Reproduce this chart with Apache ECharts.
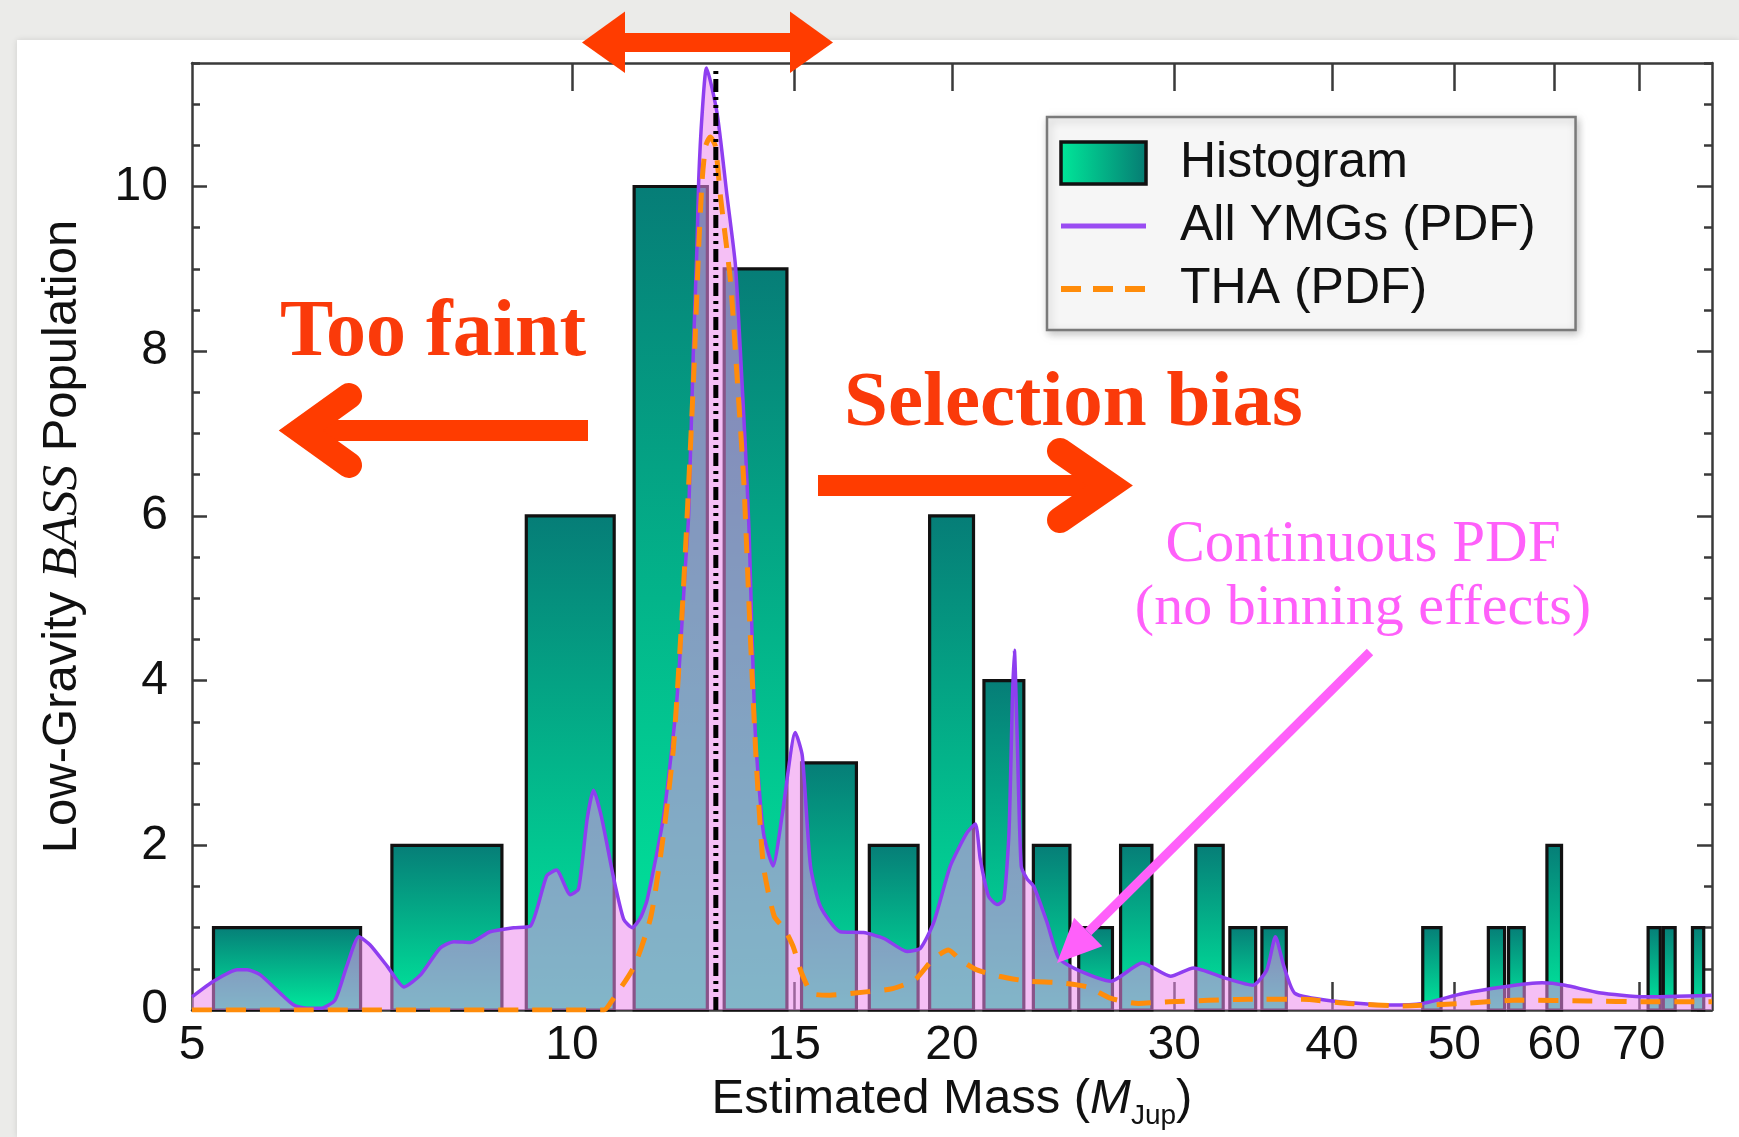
<!DOCTYPE html>
<html>
<head>
<meta charset="utf-8">
<script src="https://cdn.jsdelivr.net/npm/echarts@6/dist/echarts.min.js"></script>
<style>
  html, body { margin: 0; padding: 0; background: #ebebe9; overflow: hidden; }
  #panel { position: absolute; left: 17px; top: 40px; right: 0; bottom: 0; background: #fff; box-shadow: 0 0 6px rgba(0,0,0,0.12); }
  #chart { position: absolute; left: 0; top: 0; width: 1739px; height: 1137px; }
</style>
</head>
<body>
<div id="panel"></div>
<div id="chart"></div>
<script>
// Histogram: lower edge of each 2 M_Jup bin and the number of objects in it
const binLower  = [5, 7, 9, 11, 13, 15, 17, 19, 21, 23, 25, 27, 31, 33, 35, 47, 53, 55, 59, 71, 73, 77];
const binCounts = [1, 2, 6, 10, 9, 3, 2, 6, 4, 2, 1, 2, 2, 1, 1, 1, 1, 1, 2, 1, 1, 1];
const binWidth = 2;

// Summed mass PDF over all young moving groups
const allMass = [5.00, 5.20, 5.43, 5.53, 5.66, 5.84, 6.02, 6.17, 6.32, 6.49, 6.63, 6.78, 6.92, 7.14, 7.36, 7.59, 7.86, 8.06, 8.31, 8.61,
                 8.99, 9.27, 9.55, 9.72, 9.97, 10.12, 10.28, 10.40, 10.55, 10.79, 10.99, 11.16, 11.33, 11.47, 11.82, 12.11, 12.30, 12.37, 12.48, 12.56,
                 12.60, 12.68, 12.78, 13.03, 13.27, 13.47, 13.59, 13.72, 13.81, 13.97, 14.18, 14.43, 14.67, 15.03, 15.22, 15.45, 15.73, 16.31, 17.02, 17.66,
                 18.43, 18.88, 19.34, 19.94, 20.55, 20.87, 21.06, 21.38, 21.72, 21.98, 22.19, 22.33, 22.41, 22.52, 22.69, 22.94, 23.22, 23.79, 24.30, 25.12,
                 26.73, 28.3, 29.8, 31.07, 32.88, 34.62, 35.52, 36.08, 36.64, 37.4, 40.04, 44.4, 47.2, 50.8, 54.6, 58.7, 61.2, 65.1, 70.7, 80];
const allPdf  = [0.16, 0.35, 0.49, 0.49, 0.43, 0.24, 0.06, 0.02, 0.02, 0.12, 0.53, 0.89, 0.79, 0.53, 0.28, 0.43, 0.75, 0.83, 0.82, 0.95,
                 1.00, 1.02, 1.63, 1.70, 1.40, 1.47, 2.32, 2.67, 2.35, 1.60, 1.10, 1.00, 1.12, 1.34, 2.36, 3.78, 5.41, 6.00, 8.05, 9.27,
                 10.08, 10.89, 11.44, 10.89, 9.88, 9.06, 8.05, 6.83, 5.85, 3.37, 2.15, 1.75, 2.36, 3.37, 3.09, 1.75, 1.26, 0.95, 0.94, 0.87,
                 0.71, 0.75, 1.06, 1.75, 2.15, 2.26, 1.83, 1.38, 1.28, 1.34, 2.15, 3.78, 4.37, 3.37, 1.75, 1.59, 1.50, 1.06, 0.63, 0.49,
                 0.35, 0.57, 0.41, 0.51, 0.39, 0.30, 0.49, 0.89, 0.53, 0.20, 0.11, 0.06, 0.08, 0.20, 0.28, 0.33, 0.30, 0.21, 0.16, 0.18];

// Mass PDF for Tucana-Horologium members
const thaMass = [5.0, 10.6, 10.72, 11.2, 11.55, 11.82, 12.03, 12.2, 12.32, 12.48, 12.6, 12.68, 12.76, 12.87, 12.99, 13.11, 13.35, 13.52, 13.68, 13.84,
                 14.0, 14.18, 14.46, 14.74, 14.97, 15.2, 15.5, 16.0, 17.1, 17.95, 18.7, 19.3, 19.87, 20.3, 20.9, 21.8, 22.94, 24.37, 25.6, 26.73,
                 28.1, 29.7, 34.3, 37.9, 41.2, 45.6, 50.8, 56.2, 63.8, 70.7, 80];
const thaPdf  = [0.0, 0.0, 0.08, 0.53, 1.14, 2.15, 3.17, 4.59, 5.81, 7.64, 9.27, 10.08, 10.49, 10.6, 10.49, 9.88, 8.86, 7.64, 6.42, 4.59,
                 2.97, 1.75, 1.14, 0.98, 0.77, 0.45, 0.20, 0.18, 0.22, 0.26, 0.37, 0.61, 0.73, 0.61, 0.49, 0.41, 0.35, 0.33, 0.28, 0.14,
                 0.08, 0.10, 0.13, 0.13, 0.08, 0.05, 0.08, 0.12, 0.11, 0.10, 0.10];

// Vertical marker at the THA peak
const peakMass  = [13.0, 13.0];
const peakLevel = [0, 11.45];

// Axis ticks and labels
const xTickValues  = [10, 15, 20, 30, 40, 50, 60, 70];
const xLabelValues = [5, 10, 15, 20, 30, 40, 50, 60, 70];
const yLabelValues = [0, 2, 4, 6, 8, 10];
const xMin = 5, xMax = 80, yMin = 0, yMax = 11.5;

const SANS = '"Liberation Sans", Arial, Helvetica, sans-serif';
const SERIF = '"Liberation Serif", "Times New Roman", serif';
const lg = Math.log10;
const inset = 0.2;   // gap between neighbouring bars, in M_Jup on each side

const histData = binLower.map((lo, i) => [lg(lo + inset), lg(lo + binWidth - inset), binCounts[i]]);
const allData = allMass.map((m, i) => [lg(m), allPdf[i]]);
const thaData = thaMass.map((m, i) => [lg(m), thaPdf[i]]);
const peakData = peakMass.map((m, i) => [lg(m), peakLevel[i]]);

const barFill = new echarts.graphic.LinearGradient(0, 0, 0, 1, [
  { offset: 0, color: '#067d77' }, { offset: 1, color: '#00eb9d' }
]);
const swatchFill = new echarts.graphic.LinearGradient(0, 0, 1, 0, [
  { offset: 0, color: '#00e99a' }, { offset: 1, color: '#067a72' }
]);

const frame = { color: '#3a3a3a', width: 2.5 };
const labelStyle = { fontSize: 48, fontFamily: SANS, color: '#111' };

function xAxisDef(pos) {
  const ax = {
    type: 'value', position: pos, min: lg(xMin), max: lg(xMax),
    axisLine: { show: true, onZero: false, lineStyle: frame },
    axisTick: { show: true, inside: true, length: 28, lineStyle: frame, customValues: xTickValues.map(lg) },
    splitLine: { show: false },
    axisLabel: { show: false }
  };
  if (pos === 'bottom') {
    ax.axisLabel = Object.assign({
      show: true, margin: 12,
      customValues: xLabelValues.map(lg),
      formatter: v => String(Math.round(Math.pow(10, v)))
    }, labelStyle);
    ax.name = '{a|Estimated Mass (}{m|M}{s|Jup}{a|)}';
    ax.nameLocation = 'middle';
    ax.nameGap = 56;
    ax.nameTextStyle = {
      fontSize: 49, fontFamily: SANS, color: '#111',
      rich: {
        a: { fontSize: 49, fontFamily: SANS, color: '#111', lineHeight: 62 },
        m: { fontSize: 49, fontFamily: SANS, fontStyle: 'italic', color: '#111', lineHeight: 62 },
        s: { fontSize: 28, fontFamily: SANS, color: '#111', lineHeight: 29, verticalAlign: 'bottom' }
      }
    };
  }
  return ax;
}

function yMinorAxis(pos) {
  return {
    type: 'value', position: pos, min: yMin, max: yMax, interval: 0.5,
    axisLine: { show: true, onZero: false, lineStyle: frame },
    axisTick: { show: true, inside: true, length: 8, lineStyle: frame },
    axisLabel: { show: false }, splitLine: { show: false }
  };
}
function yMajorAxis(pos) {
  const ax = {
    type: 'value', position: pos, min: yMin, max: yMax,
    axisLine: { show: false, onZero: false },
    axisTick: { show: true, inside: true, length: 15, lineStyle: frame, customValues: yLabelValues },
    axisLabel: { show: false }, splitLine: { show: false }
  };
  if (pos === 'left') {
    ax.axisLabel = Object.assign({ show: true, margin: 24, customValues: yLabelValues }, labelStyle);
    ax.name = 'Low-Gravity {i|BASS} Population';
    ax.nameLocation = 'middle';
    ax.nameGap = 104;
    ax.nameTextStyle = {
      fontSize: 49, fontFamily: SANS, color: '#111',
      rich: { i: { fontSize: 51, fontFamily: SERIF, fontStyle: 'italic', color: '#111' } }
    };
  }
  return ax;
}

// Annotation shapes
const RED = '#ff3c00';
const MAGENTA = '#ff60fa';
function arrowHead(tip, from, len, half) {
  const dx = tip[0] - from[0], dy = tip[1] - from[1];
  const d = Math.hypot(dx, dy), ux = dx / d, uy = dy / d;
  const bx = tip[0] - ux * len, by = tip[1] - uy * len;
  return [tip, [bx - uy * half, by + ux * half], [bx + uy * half, by - ux * half]];
}
const magStart = [1370, 652], magTip = [1057, 963];
const magHead = arrowHead(magTip, magStart, 44, 20);
const magBack = [(magHead[1][0] + magHead[2][0]) / 2, (magHead[1][1] + magHead[2][1]) / 2];

const graphics = [
  // double-headed arrow above the peak
  { type: 'rect', z: 100, shape: { x: 620, y: 33, width: 175, height: 19 }, style: { fill: RED } },
  { type: 'polygon', z: 100, shape: { points: [[582, 42.5], [625, 11.5], [625, 73]] }, style: { fill: RED } },
  { type: 'polygon', z: 100, shape: { points: [[833, 42.5], [790, 11.5], [790, 73]] }, style: { fill: RED } },
  // left arrow
  { type: 'rect', z: 100, shape: { x: 300, y: 420, width: 288, height: 21 }, style: { fill: RED } },
  { type: 'polyline', z: 100, shape: { points: [[349, 396], [301, 430.5], [349, 465]] },
    style: { stroke: RED, lineWidth: 26, lineCap: 'round', lineJoin: 'miter', fill: null } },
  // right arrow
  { type: 'rect', z: 100, shape: { x: 818, y: 475, width: 292, height: 21 }, style: { fill: RED } },
  { type: 'polyline', z: 100, shape: { points: [[1060, 451], [1110, 485.5], [1060, 520]] },
    style: { stroke: RED, lineWidth: 26, lineCap: 'round', lineJoin: 'miter', fill: null } },
  { type: 'text', z: 100, style: { x: 280, y: 334, text: 'Too faint', fill: '#fa3a0a',
    font: 'bold 80px ' + SERIF, textAlign: 'left', textVerticalAlign: 'middle' } },
  { type: 'text', z: 100, style: { x: 844, y: 405, text: 'Selection bias', fill: '#fa3a0a',
    font: 'bold 79px ' + SERIF, textAlign: 'left', textVerticalAlign: 'middle' } },
  { type: 'text', z: 100, style: { x: 1363, y: 545, text: 'Continuous PDF', fill: MAGENTA,
    font: '59px ' + SERIF, textAlign: 'center', textVerticalAlign: 'middle' } },
  { type: 'text', z: 100, style: { x: 1363, y: 609, text: '(no binning effects)', fill: MAGENTA,
    font: '58px ' + SERIF, textAlign: 'center', textVerticalAlign: 'middle' } },
  { type: 'line', z: 100, shape: { x1: magStart[0], y1: magStart[1], x2: magBack[0], y2: magBack[1] },
    style: { stroke: MAGENTA, lineWidth: 9 } },
  { type: 'polygon', z: 100, shape: { points: magHead }, style: { fill: MAGENTA } }
];

const chart = echarts.init(document.getElementById('chart'), null, { renderer: 'canvas', width: 1739, height: 1137 });
chart.setOption({
  backgroundColor: 'transparent',
  animation: false,
  grid: { left: 192, right: 27, top: 63, bottom: 127, containLabel: false },
  xAxis: [xAxisDef('bottom'), xAxisDef('top')],
  yAxis: [yMinorAxis('left'), yMajorAxis('left'), yMinorAxis('right'), yMajorAxis('right')],
  legend: {
    orient: 'vertical', left: 1047, top: 117,
    padding: [21, 40, 16, 11], itemGap: 13,
    itemWidth: 85, itemHeight: 42,
    backgroundColor: '#f6f6f6', borderColor: '#7a7a7a', borderWidth: 2.5,
    shadowBlur: 8, shadowColor: 'rgba(0,0,0,0.22)', shadowOffsetX: 2, shadowOffsetY: 3,
    textStyle: { fontSize: 50, fontFamily: SANS, color: '#111', lineHeight: 50, padding: [0, 0, 0, 29] },
    selectedMode: false,
    data: [
      { name: 'Histogram', icon: 'rect', itemStyle: { color: swatchFill, borderColor: '#111', borderWidth: 3.5 } },
      { name: 'All YMGs (PDF)', itemStyle: { opacity: 0 }, lineStyle: { color: '#9a4cf2', width: 5, type: 'solid' } },
      { name: 'THA (PDF)', itemStyle: { opacity: 0 }, lineStyle: { color: '#ff8c0a', width: 6, type: [20, 12] } }
    ]
  },
  series: [
    {
      name: 'Histogram', type: 'custom', xAxisIndex: 0, yAxisIndex: 0, z: 2,
      itemStyle: { color: '#04a88a' },
      encode: { x: [0, 1], y: 2 },
      data: histData,
      renderItem: function (params, api) {
        const p0 = api.coord([api.value(0), api.value(2)]);
        const p1 = api.coord([api.value(1), 0]);
        return {
          type: 'rect',
          shape: { x: p0[0], y: p0[1], width: p1[0] - p0[0], height: p1[1] - p0[1] },
          style: { fill: barFill, stroke: '#111', lineWidth: 3.2 }
        };
      }
    },
    {
      name: 'All YMGs (PDF)', type: 'line', xAxisIndex: 0, yAxisIndex: 0, z: 3,
      data: allData, symbol: 'none', smooth: 0.2,
      lineStyle: { color: '#8e3ef0', width: 3.5 },
      itemStyle: { color: '#8e3ef0' },
      areaStyle: { color: 'rgb(236,138,236)', opacity: 0.55 }
    },
    {
      name: 'THA (PDF)', type: 'line', xAxisIndex: 0, yAxisIndex: 0, z: 4,
      data: thaData, symbol: 'none', smooth: 0.2,
      lineStyle: { color: '#ff8c0a', width: 5, type: [20, 14] },
      itemStyle: { color: '#ff8c0a' }
    },
    {
      name: 'peak', type: 'line', xAxisIndex: 0, yAxisIndex: 0, z: 5, silent: true,
      data: peakData, symbol: 'none',
      lineStyle: { color: '#000', width: 5, type: [13, 5, 3, 5, 3, 5] }
    }
  ],
  graphic: graphics
});
</script>
</body>
</html>
